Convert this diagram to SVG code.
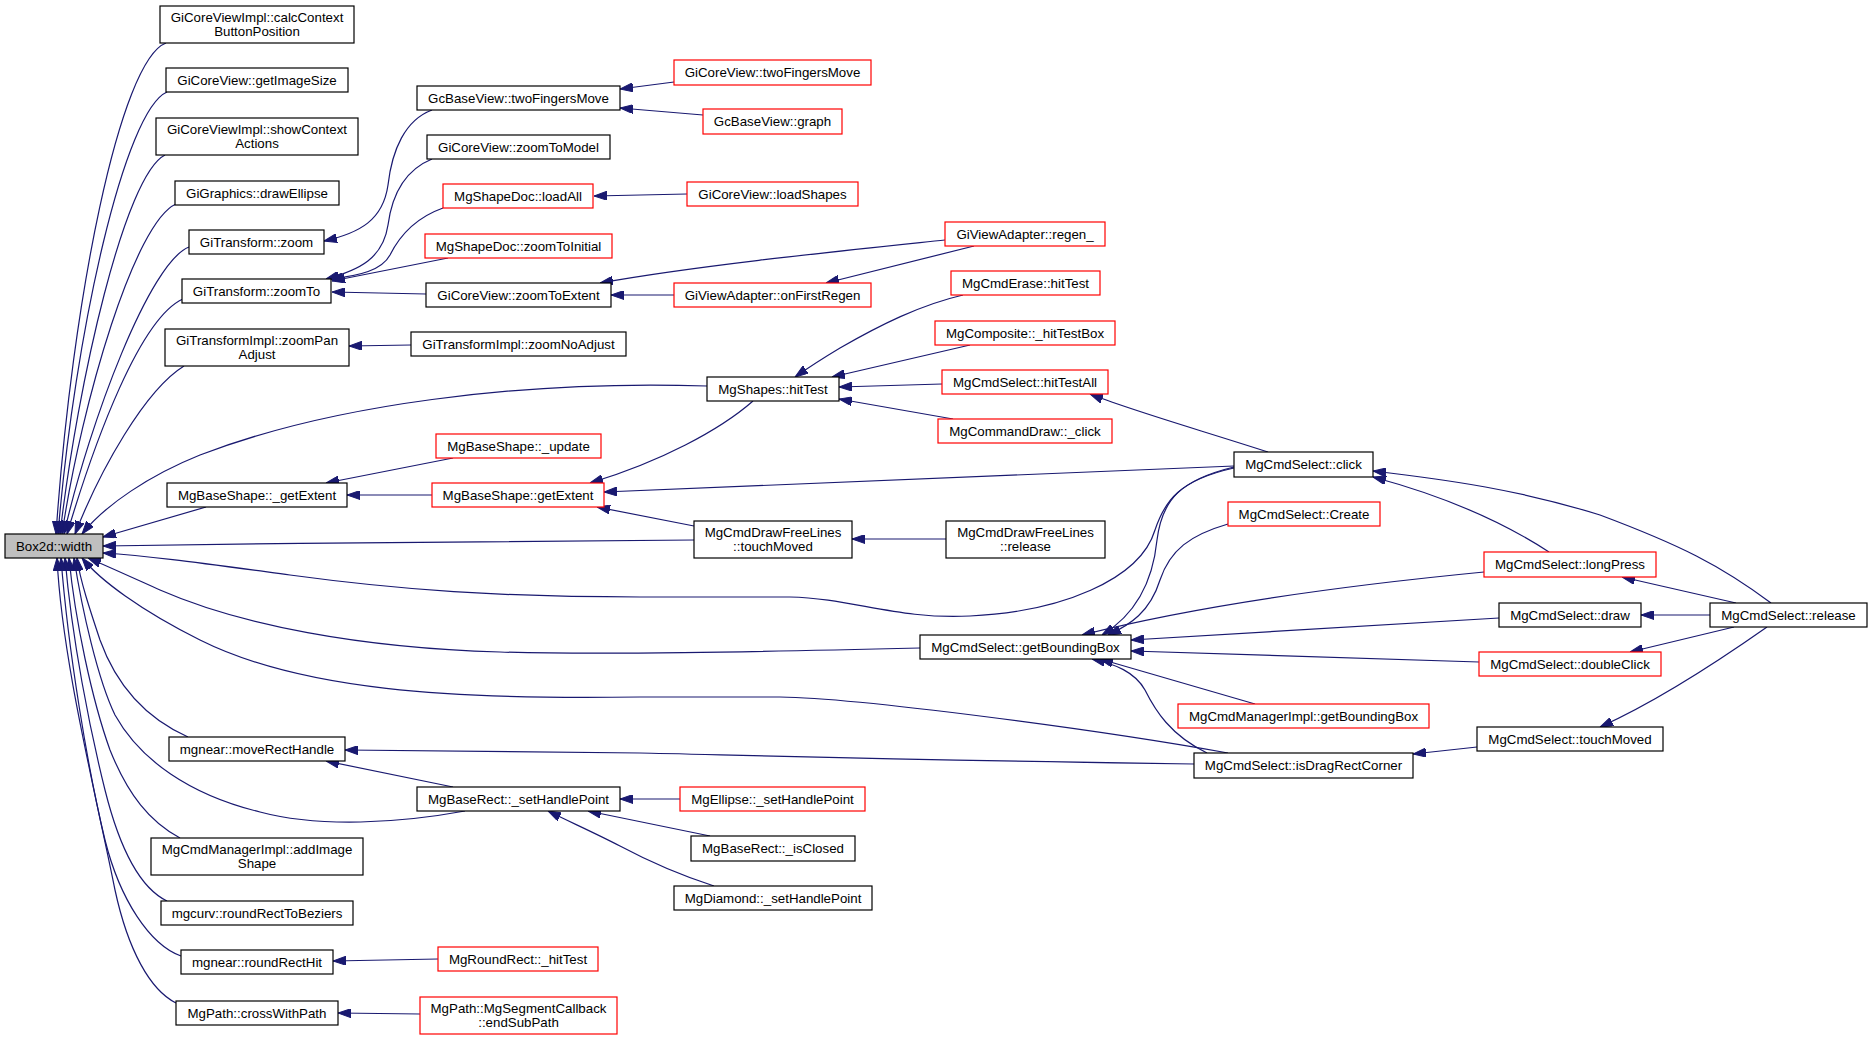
<svg xmlns="http://www.w3.org/2000/svg" width="1872" height="1040" viewBox="0 0 1872 1040">
<style>
.n rect{fill:#fff;stroke:#000;stroke-width:1.2}
.n.r rect{stroke:#ff0000}
.n.root rect{fill:#bfbfbf}
.n text{font-family:"Liberation Sans",Arial,Helvetica,sans-serif;font-size:13.3px;fill:#000;text-anchor:middle}
#edges path{fill:none;stroke:#191970;stroke-width:1.2;marker-end:url(#ah)}
</style>
<defs>
<marker id="ah" viewBox="0 0 13 9" refX="13" refY="4.5" markerWidth="13" markerHeight="9" markerUnits="userSpaceOnUse" orient="auto">
<path d="M0,0 L13,4.5 L0,9 z" fill="#191970" stroke="#191970" stroke-width="1"/>
</marker>
</defs>
<rect width="1872" height="1040" fill="#fff"/>
<g id="edges">
<path d="M166,43 C120,60 72,300 56,534"/>
<path d="M167,92 C125,110 75,330 58,534"/>
<path d="M165,155 C125,175 78,380 60,534"/>
<path d="M176,204 C135,222 82,400 62,534"/>
<path d="M189,247 C150,262 90,420 64,534"/>
<path d="M183,299 C140,318 95,440 67,534"/>
<path d="M184,366 C145,390 100,470 75,534"/>
<path d="M707,386 C520,380 330,405 200,455 C150,475 105,505 82,534"/>
<path d="M206,507 L103,537"/>
<path d="M694,540 C500,541 300,543 103,546"/>
<path d="M1234,468 C1180,480 1165,500 1155,530 C1140,580 1060,612 970,616 C900,620 850,598 790,597 L640,597 C500,597 400,590 290,575 C200,563 150,556 103,553"/>
<path d="M920,648 C750,652 600,655 500,652 C360,648 240,625 160,590 C120,572 98,562 88,558"/>
<path d="M1228,753 C1100,730 860,698 780,697 L640,697 C450,700 300,690 200,640 C140,610 100,580 82,558"/>
<path d="M188,737 C150,720 118,690 100,640 C90,610 80,580 77,558"/>
<path d="M465,811 C400,823 320,828 260,812 C190,795 140,760 115,715 C98,680 82,610 74,558"/>
<path d="M180,838 C150,822 128,795 110,750 C92,700 75,620 69,558"/>
<path d="M167,901 C140,888 120,850 105,790 C90,730 72,640 65,558"/>
<path d="M181,956 C150,945 120,900 105,840 C88,770 68,650 61,558"/>
<path d="M176,1003 C150,990 128,950 115,890 C95,790 62,660 57,558"/>
<path d="M432,110 C405,120 392,150 388,185 C383,220 360,233 324,241"/>
<path d="M432,159 C405,170 392,195 388,225 C383,258 360,270 326,279"/>
<path d="M443,208 C415,218 400,235 390,255 C382,270 360,276 329,279"/>
<path d="M448,258 L332,281"/>
<path d="M426,294 L332,292"/>
<path d="M945,240 C850,250 700,265 600,283"/>
<path d="M974,246 L826,283"/>
<path d="M674,295 L611,295"/>
<path d="M674,82 L620,89"/>
<path d="M703,115 L620,108"/>
<path d="M687,194 L594,196"/>
<path d="M411,345 L349,346"/>
<path d="M963,295 C920,305 880,325 840,348 C820,360 805,370 795,377"/>
<path d="M970,345 L832,377"/>
<path d="M942,384 L839,387"/>
<path d="M953,419 L839,399"/>
<path d="M753,401 C720,430 660,462 590,483"/>
<path d="M453,458 L326,483"/>
<path d="M432,495 L347,495"/>
<path d="M1234,466 L604,492"/>
<path d="M694,526 L597,507"/>
<path d="M946,539 L852,539"/>
<path d="M1268,452 C1200,430 1130,410 1090,394"/>
<path d="M1549,552 C1500,520 1440,495 1373,477"/>
<path d="M1771,603 C1720,565 1680,545 1600,515 C1520,490 1450,480 1373,471"/>
<path d="M1736,603 L1622,577"/>
<path d="M1710,615 L1641,615"/>
<path d="M1734,627 L1630,652"/>
<path d="M1767,627 C1720,660 1660,700 1600,727"/>
<path d="M1477,747 L1413,754"/>
<path d="M1484,572 C1350,585 1200,605 1082,635"/>
<path d="M1499,618 L1131,640"/>
<path d="M1479,662 L1131,651"/>
<path d="M1255,704 L1100,659"/>
<path d="M1207,753 C1170,735 1155,710 1145,690 C1135,672 1115,664 1092,659"/>
<path d="M1234,467 C1180,480 1162,500 1157,540 C1152,590 1130,618 1102,635"/>
<path d="M1228,524 C1190,535 1170,550 1160,580 C1150,612 1130,625 1108,635"/>
<path d="M1194,764 C900,760 700,754 640,753 L345,750"/>
<path d="M453,787 L326,761"/>
<path d="M680,799 L620,799"/>
<path d="M710,836 L588,811"/>
<path d="M714,886 C680,875 650,862 620,846 C595,833 570,822 548,811"/>
<path d="M438,959 L333,961"/>
<path d="M420,1014 L338,1013"/>
</g>
<g id="n_box2d" class="n root"><rect x="5" y="534" width="98" height="24"/><text x="54" y="550.5">Box2d::width</text></g>
<g id="n_calcctx" class="n"><rect x="160" y="6" width="194" height="37"/><text x="257" y="22">GiCoreViewImpl::calcContext</text><text x="257" y="36">ButtonPosition</text></g>
<g id="n_getimg" class="n"><rect x="166" y="68" width="182" height="24"/><text x="257" y="84.5">GiCoreView::getImageSize</text></g>
<g id="n_showctx" class="n"><rect x="156" y="118" width="202" height="37"/><text x="257" y="134">GiCoreViewImpl::showContext</text><text x="257" y="148">Actions</text></g>
<g id="n_drawell" class="n"><rect x="175" y="181" width="164" height="24"/><text x="257" y="197.5">GiGraphics::drawEllipse</text></g>
<g id="n_zoom" class="n"><rect x="189" y="230" width="135" height="24"/><text x="256.5" y="246.5">GiTransform::zoom</text></g>
<g id="n_zoomto" class="n"><rect x="182" y="279" width="149" height="24"/><text x="256.5" y="295.5">GiTransform::zoomTo</text></g>
<g id="n_zoompan" class="n"><rect x="165" y="329" width="184" height="37"/><text x="257" y="345">GiTransformImpl::zoomPan</text><text x="257" y="359">Adjust</text></g>
<g id="n_bsgetext_" class="n"><rect x="167" y="483" width="180" height="24"/><text x="257" y="499.5">MgBaseShape::_getExtent</text></g>
<g id="n_moverect" class="n"><rect x="169" y="737" width="176" height="24"/><text x="257" y="753.5">mgnear::moveRectHandle</text></g>
<g id="n_addimg" class="n"><rect x="151" y="838" width="212" height="37"/><text x="257" y="854">MgCmdManagerImpl::addImage</text><text x="257" y="868">Shape</text></g>
<g id="n_rrbez" class="n"><rect x="161" y="901" width="192" height="24"/><text x="257" y="917.5">mgcurv::roundRectToBeziers</text></g>
<g id="n_rrhit" class="n"><rect x="181" y="950" width="152" height="24"/><text x="257" y="966.5">mgnear::roundRectHit</text></g>
<g id="n_cross" class="n"><rect x="176" y="1001" width="162" height="24"/><text x="257" y="1017.5">MgPath::crossWithPath</text></g>
<g id="n_gc2f" class="n"><rect x="417" y="86" width="203" height="24"/><text x="518.5" y="102.5">GcBaseView::twoFingersMove</text></g>
<g id="n_ztm" class="n"><rect x="427" y="135" width="183" height="24"/><text x="518.5" y="151.5">GiCoreView::zoomToModel</text></g>
<g id="n_loadall" class="n r"><rect x="443" y="184" width="150" height="24"/><text x="518" y="200.5">MgShapeDoc::loadAll</text></g>
<g id="n_zti" class="n r"><rect x="425" y="234" width="187" height="24"/><text x="518.5" y="250.5">MgShapeDoc::zoomToInitial</text></g>
<g id="n_zte" class="n"><rect x="426" y="283" width="185" height="24"/><text x="518.5" y="299.5">GiCoreView::zoomToExtent</text></g>
<g id="n_zna" class="n"><rect x="411" y="332" width="215" height="24"/><text x="518.5" y="348.5">GiTransformImpl::zoomNoAdjust</text></g>
<g id="n_update" class="n r"><rect x="436" y="434" width="165" height="24"/><text x="518.5" y="450.5">MgBaseShape::_update</text></g>
<g id="n_getext" class="n r"><rect x="432" y="483" width="172" height="24"/><text x="518" y="499.5">MgBaseShape::getExtent</text></g>
<g id="n_sethp" class="n"><rect x="417" y="787" width="203" height="24"/><text x="518.5" y="803.5">MgBaseRect::_setHandlePoint</text></g>
<g id="n_rrht" class="n r"><rect x="438" y="947" width="160" height="24"/><text x="518" y="963.5">MgRoundRect::_hitTest</text></g>
<g id="n_endsub" class="n r"><rect x="420" y="997" width="197" height="37"/><text x="518.5" y="1013">MgPath::MgSegmentCallback</text><text x="518.5" y="1027">::endSubPath</text></g>
<g id="n_gi2f" class="n r"><rect x="674" y="60" width="197" height="25"/><text x="772.5" y="77">GiCoreView::twoFingersMove</text></g>
<g id="n_graph" class="n r"><rect x="703" y="109" width="139" height="25"/><text x="772.5" y="126">GcBaseView::graph</text></g>
<g id="n_loadshapes" class="n r"><rect x="687" y="182" width="171" height="24"/><text x="772.5" y="198.5">GiCoreView::loadShapes</text></g>
<g id="n_regen" class="n r"><rect x="945" y="222" width="160" height="24"/><text x="1025" y="238.5">GiViewAdapter::regen_</text></g>
<g id="n_onfirst" class="n r"><rect x="674" y="283" width="197" height="24"/><text x="772.5" y="299.5">GiViewAdapter::onFirstRegen</text></g>
<g id="n_erase" class="n r"><rect x="951" y="271" width="149" height="24"/><text x="1025.5" y="287.5">MgCmdErase::hitTest</text></g>
<g id="n_comp" class="n r"><rect x="935" y="321" width="180" height="24"/><text x="1025" y="337.5">MgComposite::_hitTestBox</text></g>
<g id="n_shapeshit" class="n"><rect x="707" y="377" width="132" height="24"/><text x="773" y="393.5">MgShapes::hitTest</text></g>
<g id="n_hitall" class="n r"><rect x="942" y="370" width="166" height="24"/><text x="1025" y="386.5">MgCmdSelect::hitTestAll</text></g>
<g id="n_cdclick" class="n r"><rect x="938" y="419" width="174" height="24"/><text x="1025" y="435.5">MgCommandDraw::_click</text></g>
<g id="n_fltm" class="n"><rect x="694" y="521" width="158" height="37"/><text x="773" y="537">MgCmdDrawFreeLines</text><text x="773" y="551">::touchMoved</text></g>
<g id="n_flrel" class="n"><rect x="946" y="521" width="159" height="37"/><text x="1025.5" y="537">MgCmdDrawFreeLines</text><text x="1025.5" y="551">::release</text></g>
<g id="n_gbb" class="n"><rect x="920" y="635" width="211" height="24"/><text x="1025.5" y="651.5">MgCmdSelect::getBoundingBox</text></g>
<g id="n_ellipse" class="n r"><rect x="680" y="787" width="185" height="24"/><text x="772.5" y="803.5">MgEllipse::_setHandlePoint</text></g>
<g id="n_isclosed" class="n"><rect x="691" y="836" width="164" height="25"/><text x="773" y="853">MgBaseRect::_isClosed</text></g>
<g id="n_diamond" class="n"><rect x="674" y="886" width="198" height="24"/><text x="773" y="902.5">MgDiamond::_setHandlePoint</text></g>
<g id="n_click" class="n"><rect x="1234" y="452" width="139" height="25"/><text x="1303.5" y="469">MgCmdSelect::click</text></g>
<g id="n_create" class="n r"><rect x="1228" y="502" width="152" height="24"/><text x="1304" y="518.5">MgCmdSelect::Create</text></g>
<g id="n_mgrgbb" class="n r"><rect x="1178" y="704" width="251" height="24"/><text x="1303.5" y="720.5">MgCmdManagerImpl::getBoundingBox</text></g>
<g id="n_drag" class="n"><rect x="1194" y="753" width="219" height="25"/><text x="1303.5" y="770">MgCmdSelect::isDragRectCorner</text></g>
<g id="n_longpress" class="n r"><rect x="1484" y="552" width="172" height="25"/><text x="1570" y="569">MgCmdSelect::longPress</text></g>
<g id="n_draw" class="n"><rect x="1499" y="603" width="142" height="24"/><text x="1570" y="619.5">MgCmdSelect::draw</text></g>
<g id="n_release" class="n"><rect x="1710" y="603" width="157" height="24"/><text x="1788.5" y="619.5">MgCmdSelect::release</text></g>
<g id="n_dbl" class="n r"><rect x="1479" y="652" width="182" height="24"/><text x="1570" y="668.5">MgCmdSelect::doubleClick</text></g>
<g id="n_tm" class="n"><rect x="1477" y="727" width="186" height="24"/><text x="1570" y="743.5">MgCmdSelect::touchMoved</text></g>
</svg>
